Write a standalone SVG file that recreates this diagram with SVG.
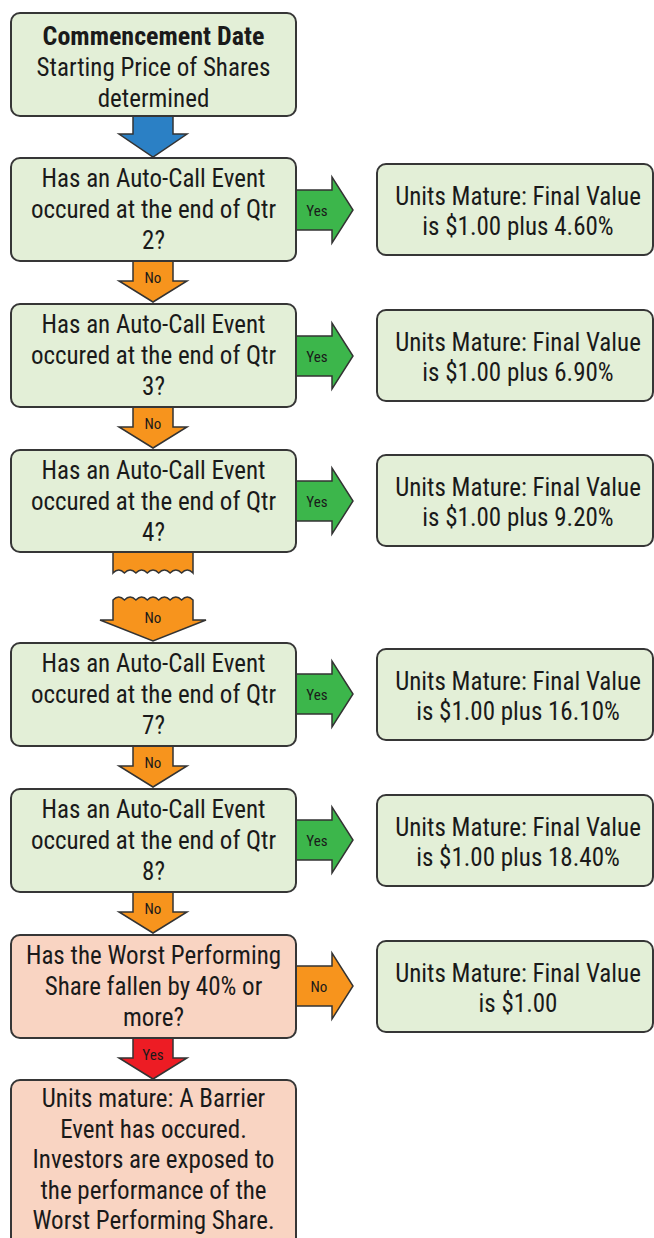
<svg xmlns="http://www.w3.org/2000/svg" width="654" height="1238" viewBox="0 0 654 1238">
<style>
.box{stroke:#363636;stroke-width:2}
.g{fill:#e3efd7}
.p{fill:#f9d4c2}
.t{font-family:"Liberation Sans Narrow","Roboto Condensed","DejaVu Sans Condensed",sans-serif;font-size:25px;fill:#1a1a1a;text-anchor:middle}
.b{font-weight:bold;font-size:26px}
.lbl{font-family:"Liberation Sans Narrow","Roboto Condensed","DejaVu Sans Condensed",sans-serif;font-size:15px;fill:#1a1a1a;text-anchor:middle}
.arr{stroke:#333;stroke-width:1.5;stroke-linejoin:miter}
.yes{fill:#3cb64b}
.no{fill:#f7941d}
.blue{fill:#2b80c5}
.red{fill:#ed1c24}
</style>
<rect width="654" height="1238" fill="#ffffff"/>
<g id="connectors">
  <polygon class="arr blue" points="133,116 173,116 173,134 187,134 153,157 119,134 133,134"/>
  <g id="yes1"><polygon class="arr yes" points="295,190 332,190 332,177 353,210 332,243 332,230 295,230"/><text class="lbl" x="317" y="216">Yes</text></g>
  <g id="yes2"><polygon class="arr yes" points="295,336 332,336 332,323 353,356 332,389 332,376 295,376"/><text class="lbl" x="317" y="362">Yes</text></g>
  <g id="yes3"><polygon class="arr yes" points="295,481 332,481 332,468 353,501 332,534 332,521 295,521"/><text class="lbl" x="317" y="507">Yes</text></g>
  <g id="yes4"><polygon class="arr yes" points="295,674 332,674 332,661 353,694 332,727 332,714 295,714"/><text class="lbl" x="317" y="700">Yes</text></g>
  <g id="yes5"><polygon class="arr yes" points="295,820 332,820 332,807 353,840 332,873 332,860 295,860"/><text class="lbl" x="317" y="846">Yes</text></g>
  <g id="no7"><polygon class="arr no" points="295,966 332,966 332,953 353,986 332,1019 332,1006 295,1006"/><text class="lbl" x="319" y="992">No</text></g>
  <g id="no1"><polygon class="arr no" points="133,261 173,261 173,281 187,281 153,302 119,281 133,281"/><text class="lbl" x="153" y="283">No</text></g>
  <g id="no2"><polygon class="arr no" points="133,407 173,407 173,427 187,427 153,448 119,427 133,427"/><text class="lbl" x="153" y="429">No</text></g>
  <g id="no_break">
    <path class="arr no" d="M113,552 L193,552 L193,573 Q187.3,567 181.6,573 Q175.9,567 170.1,573 Q164.4,567 158.7,573 Q153,567 147.3,573 Q141.6,567 135.9,573 Q130.1,567 124.4,573 Q118.7,567 113,573 Z"/>
    <path class="arr no" d="M113,600 Q118.7,594 124.4,600 Q130.1,594 135.9,600 Q141.6,594 147.3,600 Q153,594 158.7,600 Q164.4,594 170.1,600 Q175.9,594 181.6,600 Q187.3,594 193,600 L193,620 L206,620 L153,641 L100,620 L113,620 Z"/>
    <text class="lbl" x="153" y="623">No</text>
  </g>
  <g id="no5"><polygon class="arr no" points="133,746 173,746 173,766 187,766 153,787 119,766 133,766"/><text class="lbl" x="153" y="768">No</text></g>
  <g id="no6"><polygon class="arr no" points="133,892 173,892 173,912 187,912 153,933 119,912 133,912"/><text class="lbl" x="153" y="914">No</text></g>
  <g id="yes_red"><polygon class="arr red" points="133,1038 173,1038 173,1058 187,1058 153,1079 119,1058 133,1058"/><text class="lbl" x="153" y="1060">Yes</text></g>
</g>
<g id="n_start"><rect class="box g" x="11" y="13" width="285" height="103" rx="9"/>
  <text class="t b" x="153.5" y="45">Commencement Date</text>
  <text class="t" x="153.5" y="76">Starting Price of Shares</text>
  <text class="t" x="153.5" y="107">determined</text></g>
<g id="n_q2"><rect class="box g" x="11" y="158" width="285" height="103" rx="9"/>
  <text class="t" x="153.5" y="187">Has an Auto-Call Event</text>
  <text class="t" x="153.5" y="218">occured at the end of Qtr</text>
  <text class="t" x="153.5" y="249">2?</text></g>
<g id="n_q3"><rect class="box g" x="11" y="304" width="285" height="103" rx="9"/>
  <text class="t" x="153.5" y="333">Has an Auto-Call Event</text>
  <text class="t" x="153.5" y="364">occured at the end of Qtr</text>
  <text class="t" x="153.5" y="395">3?</text></g>
<g id="n_q4"><rect class="box g" x="11" y="450" width="285" height="102" rx="9"/>
  <text class="t" x="153.5" y="479">Has an Auto-Call Event</text>
  <text class="t" x="153.5" y="510">occured at the end of Qtr</text>
  <text class="t" x="153.5" y="541">4?</text></g>
<g id="n_q7"><rect class="box g" x="11" y="643" width="285" height="103" rx="9"/>
  <text class="t" x="153.5" y="672">Has an Auto-Call Event</text>
  <text class="t" x="153.5" y="703">occured at the end of Qtr</text>
  <text class="t" x="153.5" y="734">7?</text></g>
<g id="n_q8"><rect class="box g" x="11" y="789" width="285" height="103" rx="9"/>
  <text class="t" x="153.5" y="818">Has an Auto-Call Event</text>
  <text class="t" x="153.5" y="849">occured at the end of Qtr</text>
  <text class="t" x="153.5" y="880">8?</text></g>
<g id="n_worst"><rect class="box p" x="11" y="935" width="285" height="103" rx="9"/>
  <text class="t" x="153.5" y="964">Has the Worst Performing</text>
  <text class="t" x="153.5" y="995">Share fallen by 40% or</text>
  <text class="t" x="153.5" y="1026">more?</text></g>
<g id="n_barrier"><rect class="box p" x="11" y="1080" width="285" height="190" rx="9"/>
  <text class="t" x="153.5" y="1107">Units mature: A Barrier</text>
  <text class="t" x="153.5" y="1138">Event has occured.</text>
  <text class="t" x="153.5" y="1168">Investors are exposed to</text>
  <text class="t" x="153.5" y="1199">the performance of the</text>
  <text class="t" x="153.5" y="1229">Worst Performing Share.</text></g>
<g id="r_q2"><rect class="box g" x="377" y="164" width="276" height="91" rx="9"/>
  <text class="t" x="518" y="205">Units Mature: Final Value</text>
  <text class="t" x="518" y="235">is $1.00 plus 4.60%</text></g>
<g id="r_q3"><rect class="box g" x="377" y="310" width="276" height="91" rx="9"/>
  <text class="t" x="518" y="351">Units Mature: Final Value</text>
  <text class="t" x="518" y="381">is $1.00 plus 6.90%</text></g>
<g id="r_q4"><rect class="box g" x="377" y="455" width="276" height="91" rx="9"/>
  <text class="t" x="518" y="496">Units Mature: Final Value</text>
  <text class="t" x="518" y="526">is $1.00 plus 9.20%</text></g>
<g id="r_q7"><rect class="box g" x="377" y="649" width="276" height="91" rx="9"/>
  <text class="t" x="518" y="690">Units Mature: Final Value</text>
  <text class="t" x="518" y="720">is $1.00 plus 16.10%</text></g>
<g id="r_q8"><rect class="box g" x="377" y="795" width="276" height="91" rx="9"/>
  <text class="t" x="518" y="836">Units Mature: Final Value</text>
  <text class="t" x="518" y="866">is $1.00 plus 18.40%</text></g>
<g id="r_final"><rect class="box g" x="377" y="941" width="276" height="91" rx="9"/>
  <text class="t" x="518" y="982">Units Mature: Final Value</text>
  <text class="t" x="518" y="1012">is $1.00</text></g>
</svg>
